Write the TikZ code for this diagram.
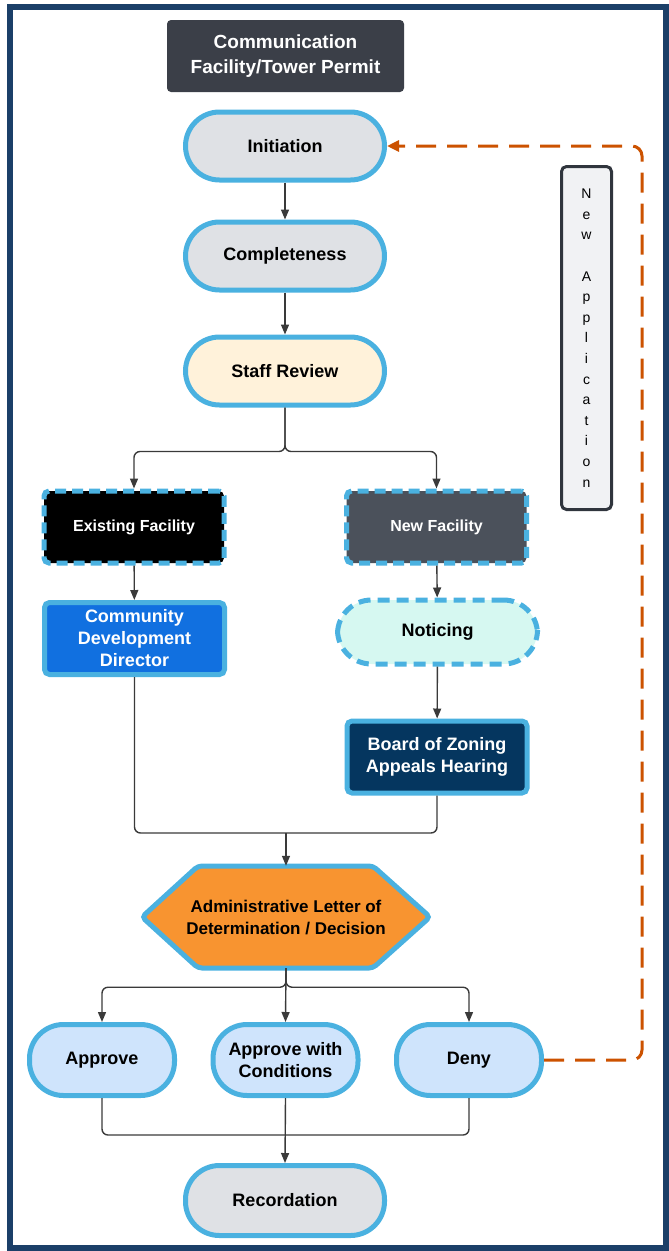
\documentclass[tikz,border=0pt]{standalone}
\usepackage{fontspec}
\setmainfont{Liberation Sans}
\usetikzlibrary{arrows.meta}

\definecolor{frameblue}{HTML}{1B3F68}
\definecolor{titlegray}{HTML}{3B3F48}
\definecolor{skyline}{HTML}{4AB1E0}
\definecolor{stepgray}{HTML}{DFE1E5}
\definecolor{cream}{HTML}{FFF2DA}
\definecolor{slate}{HTML}{4B515B}
\definecolor{cddblue}{HTML}{1170E0}
\definecolor{mint}{HTML}{D6F8F1}
\definecolor{navy}{HTML}{05365F}
\definecolor{decorange}{HTML}{F89430}
\definecolor{paleblue}{HTML}{CFE4FC}
\definecolor{rust}{HTML}{CC5200}
\definecolor{linegray}{HTML}{3A3A3A}
\definecolor{notegray}{HTML}{F1F2F4}
\definecolor{noteedge}{HTML}{30353D}

\newcommand{\nodefont}{\bfseries\fontsize{18}{22}\selectfont}

\begin{document}
\begin{tikzpicture}[
  x=1pt, y=-1pt,
  stadium/.style={draw=skyline, line width=5pt, rounded corners=34pt, align=center,
    font=\nodefont, minimum width=199pt, minimum height=68pt},
  outcome/.style={stadium, fill=paleblue, minimum width=145pt, minimum height=71pt},
  box/.style={draw=skyline, line width=5pt, rounded corners=5pt, align=center,
    font=\nodefont, text=white, minimum width=180pt, minimum height=72pt},
  dashbox/.style={box, dash pattern=on 11pt off 6pt, font=\bfseries\fontsize{16}{19}\selectfont},
  conn/.style={-{Triangle[length=10pt,width=8pt]}, line width=1.4pt, draw=linegray, rounded corners=6pt},
  plain/.style={line width=1.4pt, draw=linegray, rounded corners=6pt},
  retline/.style={-{Triangle[length=12pt,width=11pt]}, draw=rust, line width=3pt,
    dash pattern=on 20pt off 11pt, rounded corners=10pt}
]

\useasboundingbox (0,0) rectangle (669,1251);
\draw[frameblue, line width=6pt] (10,7) rectangle (666,1248);

% header
\node[fill=titlegray, rounded corners=4pt, text=white, align=center,
  font=\bfseries\fontsize{19}{25}\selectfont, minimum width=237pt, minimum height=72pt]
  (title) at (285.5,56) {Communication\\Facility/Tower Permit};

% main column
\node[stadium, fill=stepgray] (init) at (285,146) {Initiation};
\node[stadium, fill=stepgray] (compl) at (285,256) {Completeness};
\node[stadium, fill=cream] (review) at (285,371) {Staff Review};

% two tracks
\node[dashbox, fill=black] (exist) at (134,527) {Existing Facility};
\node[dashbox, fill=slate] (newfac) at (436.5,527) {New Facility};
\node[box, fill=cddblue, fill=cddblue] (cdd) at (134.5,638.5) {Community\\Development\\Director};
\node[stadium, fill=mint, dash pattern=on 12pt off 7pt, minimum width=200pt, minimum height=64pt]
  (notice) at (437.5,632) {Noticing};
\node[box, fill=navy] (bza) at (437,757) {Board of Zoning\\Appeals Hearing};

% decision
\fill[decorange, draw=skyline, line width=5pt, rounded corners=4pt]
  (142,917) -- (198,866) -- (373,866) -- (430,917) -- (373,968) -- (198,968) -- cycle;
\node[align=center, font=\bfseries\fontsize{17}{22}\selectfont, minimum width=288pt,
  minimum height=102pt, inner sep=0pt] (decide) at (286,917)
  {Administrative Letter of\\Determination / Decision};

% outcomes
\node[outcome] (appr) at (102,1060) {Approve};
\node[outcome] (cond) at (285.5,1060) {Approve with\\Conditions};
\node[outcome] (deny) at (469,1060) {Deny};
\node[stadium, fill=stepgray, minimum height=70pt] (record) at (285,1200.5) {Recordation};

% side note
\node[draw=noteedge, fill=notegray, line width=3pt, rounded corners=5pt,
  minimum width=50pt, minimum height=343pt, align=center,
  font=\fontsize{14}{20.6}\selectfont] (newapp) at (586.5,338)
  {N\\e\\w\\[20.6pt]A\\p\\p\\l\\i\\c\\a\\t\\i\\o\\n};

\coordinate (join1) at (286,833);
\coordinate (join2) at (286,1135);

\draw[conn] (init) -- (compl);
\draw[conn] (compl) -- (review);
\draw[conn] (review.south) -- ++(0,44) -| (exist.north);
\draw[conn] (review.south) -- ++(0,44) -| (newfac.north);
\draw[conn] (exist) -- (cdd);
\draw[conn] (newfac) -- (notice);
\draw[conn] (notice) -- (bza);
\draw[plain] (cdd.south) |- (join1) -| (bza.south);
\draw[conn] (join1) -- (decide.north);
\draw[conn] (decide.south) -- ++(0,19) -| (appr.north);
\draw[conn] (decide.south) -- (cond.north);
\draw[conn] (decide.south) -- ++(0,19) -| (deny.north);
\draw[plain] (appr.south) |- (join2) -| (deny.south);
\draw[conn] (cond.south) -- (record.north);
\draw[retline] (deny.east) -- ++(98,0) |- (init.east);

\end{tikzpicture}
\end{document}
